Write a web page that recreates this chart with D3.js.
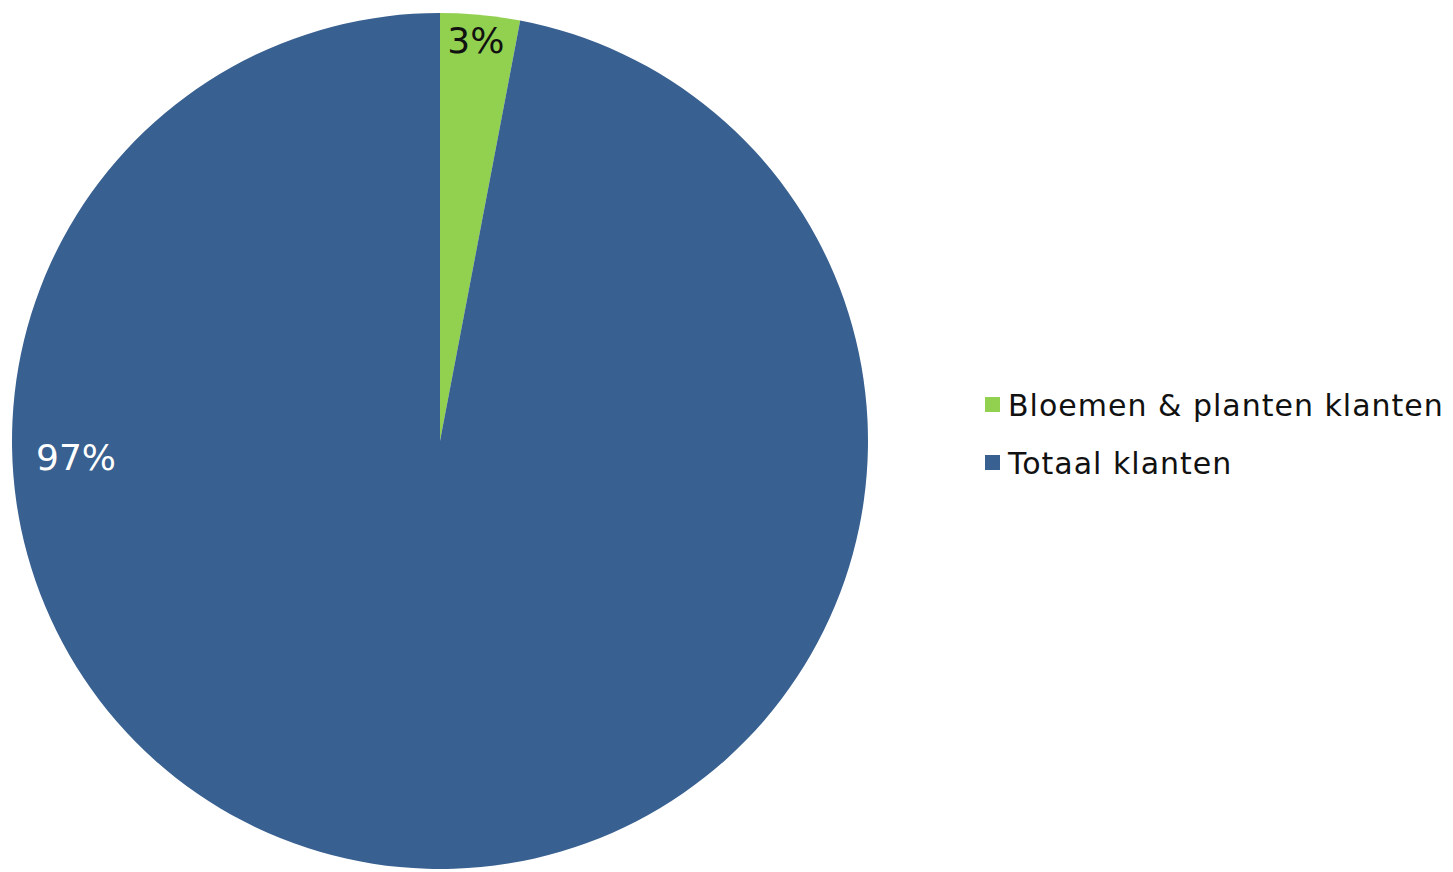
<!DOCTYPE html>
<html>
<head>
<meta charset="utf-8">
<script src="https://cdn.jsdelivr.net/npm/d3@7"></script>
<style>
  body { margin: 0; background: #fff; }
  text { font-family: "DejaVu Sans", sans-serif; }
</style>
</head>
<body>
<svg id="pie"></svg>
<script>
// data
const categories = ["Bloemen & planten klanten", "Totaal klanten"];
const shares = [3, 97];
const sliceLabels = ["3%", "97%"];
const colors = ["#92d050", "#386090"];

const W = 1453, H = 872;
const cx = 440, cy = 441, radius = 428;

const svg = d3.select("#pie")
    .attr("width", W)
    .attr("height", H);

const pie = d3.pie().sort(null).value(d => d);
const arcs = pie(shares);

const arc = d3.arc().innerRadius(0).outerRadius(radius);

const g = svg.append("g").attr("transform", `translate(${cx},${cy})`);

g.selectAll("path")
    .data(arcs)
    .enter().append("path")
    .attr("d", arc)
    .attr("fill", (d, i) => colors[i]);

// label positions: small slice near the rim, big slice on the left side
const rimArc = d3.arc().innerRadius(radius * 0.94).outerRadius(radius * 0.94);

g.selectAll(".lbl")
    .data(arcs)
    .enter().append("text")
    .attr("class", "lbl")
    .attr("x", (d, i) => i === 0 ? rimArc.centroid(d)[0] - 2 : -radius + 64)
    .attr("y", (d, i) => i === 0 ? rimArc.centroid(d)[1] : 16)
    .attr("text-anchor", "middle")
    .attr("dy", "0.35em")
    .attr("font-size", 36)
    .attr("fill", (d, i) => i === 0 ? "#111" : "#fff")
    .text((d, i) => sliceLabels[i]);

// legend
const legend = svg.selectAll(".legend")
    .data(categories)
    .enter().append("g")
    .attr("class", "legend")
    .attr("transform", (d, i) => `translate(985,${405 + i * 58})`);

legend.append("rect")
    .attr("x", 0)
    .attr("y", -8)
    .attr("width", 15)
    .attr("height", 15)
    .attr("fill", (d, i) => colors[i]);

legend.append("text")
    .attr("x", 23)
    .attr("y", 0)
    .attr("dy", "0.35em")
    .attr("font-size", 30)
    .attr("letter-spacing", 1)
    .attr("fill", "#111")
    .text(d => d);
</script>
</body>
</html>
